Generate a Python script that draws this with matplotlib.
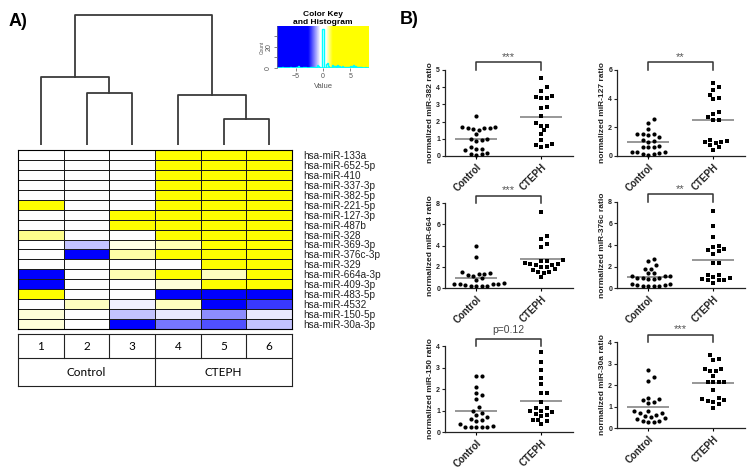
import numpy as np
import matplotlib
matplotlib.use("Agg")
import matplotlib.pyplot as plt
from matplotlib.colors import LinearSegmentedColormap
from matplotlib.transforms import blended_transform_factory

plt.rcParams['font.family'] = ['Liberation Sans', 'DejaVu Sans']

W, H = 756, 469

# ---- heatmap data (A) ----
mirnas = ['hsa-miR-133a', 'hsa-miR-652-5p', 'hsa-miR-410', 'hsa-miR-337-3p', 'hsa-miR-382-5p',
          'hsa-miR-221-5p', 'hsa-miR-127-3p', 'hsa-miR-487b', 'hsa-miR-328', 'hsa-miR-369-3p',
          'hsa-miR-376c-3p', 'hsa-miR-329', 'hsa-miR-664a-3p', 'hsa-miR-409-3p', 'hsa-miR-483-5p',
          'hsa-miR-4532', 'hsa-miR-150-5p', 'hsa-miR-30a-3p']
heat_values = [
    [0, 0, 0, 6.2, 5.4, 7.1],
    [0, 0, 0, 5.8, 6.6, 4.9],
    [0, 0, 0, 4.3, 5.1, 6.0],
    [0, 0, 0, 3.6, 5.7, 5.3],
    [0, 0, 0, 2.9, 4.6, 6.4],
    [3.1, 0, 0, 5.5, 7.8, 5.9],
    [0, 0, 2.4, 4.8, 6.8, 5.6],
    [0, 0, 2.2, 3.3, 5.2, 4.4],
    [1.1, 0, 0, 2.6, 3.9, 4.1],
    [0, -1.0, 0.65, 0.9, 3.4, 2.7],
    [0, -4.6, 0.95, 2.1, 3.0, 2.5],
    [0, 0, 0, 0, 2.3, 3.7],
    [-4.4, 0, 0.9, 1.9, 0.85, 2.8],
    [-6.1, 0, 0, 0.7, 2.0, 1.9],
    [1.9, 0, 0, -4.5, -7.5, -3.6],
    [0, 0.8, -0.6, 0.85, -4.7, -2.2],
    [0.68, 0, -1.0, -0.72, -1.5, -0.72],
    [0.68, 0, -3.2, -1.66, -2.0, -1.0],
]
sample_ids = ['1', '2', '3', '4', '5', '6']
groups = ['Control', 'CTEPH']
# dendrogram merges: (child a, child b, height); ids >= 6 are earlier merges
merges = [(1, 2, 52), (4, 5, 26), (0, 6, 68), (3, 7, 50), (8, 9, 130)]

# ---- scatter data (B) ----
ctrl_382 = [2.3, 1.7, 1.65, 1.6, 1.65, 1.7, 1.5, 1.55, 1.25, 1.0, 0.95, 1.0, 0.85, 0.55,
            0.38, 0.32, 0.4, 0.15, 0.12, 0.1, 0.08]
cteph_382 = [4.55, 4.0, 3.8, 3.45, 3.4, 3.35, 3.5, 2.85, 2.8, 2.3, 1.75, 1.75, 1.9, 1.5,
             1.25, 0.95, 0.7, 0.65, 0.5, 0.6]
ctrl_127 = [2.58, 2.33, 1.88, 1.55, 1.5, 1.45, 1.55, 1.33, 1.1, 1.05, 1.0, 0.72, 0.65, 0.62,
            0.65, 0.28, 0.22, 0.14, 0.16, 0.25, 0.3, 0.07]
cteph_127 = [5.1, 4.8, 4.6, 4.25, 3.95, 4.05, 3.1, 2.9, 2.7, 2.5, 2.5, 1.05, 0.9, 0.75,
             0.95, 1.0, 1.15, 0.45, 0.6]
ctrl_664 = [3.95, 2.95, 1.45, 1.35, 1.15, 1.25, 1.3, 1.55, 0.9, 0.75, 0.42, 0.4, 0.45, 0.15,
            0.2, 0.15, 0.3, 0.4, 0.42, 0.2]
cteph_664 = [7.15, 4.9, 4.65, 3.85, 4.1, 2.65, 2.5, 2.35, 2.3, 2.3, 2.5, 2.0, 2.2, 1.95,
             2.2, 1.8, 1.55, 1.45, 1.55, 1.05, 1.7]
ctrl_376c = [2.7, 2.55, 1.75, 1.75, 2.1, 1.35, 1.15, 1.1, 1.15, 1.35, 0.85, 0.9, 0.85, 0.9,
             0.95, 0.4, 0.3, 0.22, 0.15, 0.15, 0.22, 0.3, 0.4]
cteph_376c = [7.2, 5.75, 4.7, 3.6, 3.8, 3.95, 3.5, 3.45, 3.2, 2.3, 2.3, 1.2, 1.0, 0.9,
              1.25, 0.8, 0.7, 0.75, 0.7, 0.5]
ctrl_150 = [2.6, 2.6, 2.1, 1.8, 1.7, 1.55, 1.15, 1.0, 0.9, 0.8, 0.6, 0.55, 0.7, 0.5,
            0.28, 0.23, 0.23, 0.23, 0.23, 0.25, 0.38]
cteph_150 = [3.7, 3.25, 2.9, 2.5, 2.25, 1.8, 1.8, 1.4, 1.1, 1.0, 0.95, 1.0, 1.1, 0.8,
             0.85, 0.75, 0.55, 0.55, 0.5, 0.35]
ctrl_30a = [2.7, 2.35, 2.2, 1.38, 1.3, 1.22, 1.33, 1.14, 0.78, 0.7, 0.55, 0.5, 0.62, 0.7,
            0.78, 0.4, 0.33, 0.28, 0.33, 0.45, 0.28]
cteph_30a = [3.38, 3.17, 3.22, 2.73, 2.65, 2.63, 2.75, 2.42, 2.15, 2.15, 2.15, 2.15, 1.77,
             1.4, 1.33, 1.12, 1.22, 1.25, 1.3, 0.95]

panel_names = ['miR-382', 'miR-127', 'miR-664', 'miR-376c', 'miR-150', 'miR-30a']
panel_ctrl = [ctrl_382, ctrl_127, ctrl_664, ctrl_376c, ctrl_150, ctrl_30a]
panel_cteph = [cteph_382, cteph_127, cteph_664, cteph_376c, cteph_150, cteph_30a]
panel_ymax = [5, 6, 8, 8, 4, 4]
panel_ystep = [1, 2, 2, 2, 1, 1]
panel_sig = ['***', '**', '***', '**', 'p=0.12', '***']


def px_axes(x0, y0, x1, y1):
    return fig.add_axes([x0 / W, 1 - y1 / H, (x1 - x0) / W, (y1 - y0) / H])


def swarm(x0, vals, px_y, px_x, d=5.0):
    # greedy beeswarm in pixel space: nearest free slot to the centre line
    vals = np.asarray(vals, dtype=float)
    ypx = vals * px_y
    xs = np.zeros(len(vals))
    placed = []
    for i in np.argsort(vals):
        for k in range(40):
            off = ((k + 1) // 2) * (1 if k % 2 else -1) * d * 0.55
            ok = all((off - px) ** 2 + (ypx[i] - py) ** 2 >= d * d for px, py in placed)
            if ok:
                break
        placed.append((off, ypx[i]))
        xs[i] = x0 + off / px_x
    return xs


fig = plt.figure(figsize=(W / 100, H / 100), dpi=100)

# ---------------- A) heatmap ----------------
vmin, vmax = -8.4, 8.4
def npos(v):
    return (v - vmin) / (vmax - vmin)
cmap = LinearSegmentedColormap.from_list('byw', [
    (0.0, 'blue'), (npos(-2.7), 'blue'), (npos(-0.5), 'white'),
    (npos(0.5), 'white'), (npos(1.8), 'yellow'), (1.0, 'yellow')])

mat = np.array(heat_values)
ax_h = px_axes(18, 150, 292, 329)
ax_h.pcolormesh(mat, cmap=cmap, vmin=vmin, vmax=vmax, edgecolors='#1c1c1c', linewidth=0.7)
ax_h.set_xlim(0, mat.shape[1])
ax_h.set_ylim(mat.shape[0], 0)
ax_h.set_xticks([])
ax_h.yaxis.tick_right()
ax_h.set_yticks(np.arange(len(mirnas)) + 0.5)
ax_h.set_yticklabels(mirnas, fontsize=7.2, color='#222')
ax_h.tick_params(axis='y', length=0, pad=8)
for s in ax_h.spines.values():
    s.set_linewidth(0.8)

# dendrogram
ax_d = px_axes(18, 10, 292, 145)
pos = {i: i + 0.5 for i in range(6)}
hgt = {i: 0 for i in range(6)}
for k, (a, b, h) in enumerate(merges):
    xa, xb = pos[a], pos[b]
    ax_d.plot([xa, xa, xb, xb], [hgt[a], h, h, hgt[b]], color='#3a3a3a', lw=1.3)
    pos[6 + k] = (xa + xb) / 2
    hgt[6 + k] = h
ax_d.set_xlim(0, 6)
ax_d.set_ylim(0, 135)
ax_d.axis('off')

# colour key with histogram
ax_k = px_axes(277, 26, 369, 68)
grad = np.linspace(vmin, vmax, 300)[None, :]
ax_k.imshow(grad, cmap=cmap, vmin=vmin, vmax=vmax, aspect='auto', extent=(vmin, vmax, 0, 40))
counts, edges = np.histogram(mat.ravel(), bins=np.linspace(-8.5, 8.5, 86))
ax_k.stairs(counts, edges, color='cyan', lw=1.0, baseline=0)
ax_k.axhline(0.3, color='cyan', lw=1.2)
ax_k.set_xlim(vmin, vmax)
ax_k.set_ylim(0, 40)
ax_k.set_xticks([-5, 0, 5])
ax_k.set_yticks([0, 10, 20, 30])
ax_k.set_yticklabels(['0', '', '20', ''], rotation=90, va='center')
ax_k.tick_params(labelsize=5, colors='#555', length=2, width=0.5, pad=1.5)
ax_k.set_ylabel('Count', fontsize=3.5, color='#555', labelpad=0)
ax_k.set_xlabel('Value', fontsize=5.5, color='#555', labelpad=2)
for side in ['top', 'right', 'bottom']:
    ax_k.spines[side].set_visible(False)
ax_k.spines['left'].set_linewidth(0.5)
ax_k.spines['left'].set_color('#777')
fig.text(323 / W, 1 - 18.5 / H, 'Color Key\nand Histogram', ha='center', va='center',
         fontsize=6, weight='bold', linespacing=1.0)

# sample / group table
ax_t = px_axes(18, 334, 292, 386)
ax_t.set_xlim(0, 6)
ax_t.set_ylim(0, 52)
ax_t.axhline(28, color='#222', lw=0.8)
for i in range(1, 6):
    ax_t.plot([i, i], [28, 52], color='#222', lw=0.8)
ax_t.plot([3, 3], [0, 28], color='#222', lw=0.8)
for i, sid in enumerate(sample_ids):
    ax_t.text(i + 0.5, 40, sid, ha='center', va='center', fontsize=8.5, family='Lato')
for j, g in enumerate(groups):
    ax_t.text(1.5 + 3 * j, 14, g, ha='center', va='center', fontsize=8.5, family='Lato')
ax_t.set_xticks([])
ax_t.set_yticks([])
for s in ax_t.spines.values():
    s.set_linewidth(0.8)
    s.set_color('#222')

fig.text(9 / W, 1 - 21 / H, 'A)', fontsize=13, weight='bold', va='center')
fig.text(400 / W, 1 - 19 / H, 'B)', fontsize=13, weight='bold', va='center')

# ---------------- B) scatter panels ----------------
panel_boxes = [(445, 70, 156), (617, 70, 156), (445, 203, 288),
               (617, 202, 288), (445, 346, 432), (617, 342, 428)]
for k in range(6):
    left, top, bottom = panel_boxes[k]
    ax = px_axes(left, top, left + 128, bottom)
    ymax = panel_ymax[k]
    px_per_unit = (bottom - top) / ymax
    for g, (vals, mk) in enumerate([(panel_ctrl[k], 'o'), (panel_cteph[k], 's')]):
        x0 = g + 1
        xs = swarm(x0, vals, px_per_unit, 65.0)
        ax.scatter(xs, vals, marker=mk, s=9 if mk == 'o' else 8, color='black',
                   linewidths=0, clip_on=False, zorder=3)
        ax.hlines(np.mean(vals), x0 - 0.33, x0 + 0.33, color='#7a7a7a', lw=1.1, zorder=2)
    ax.set_xlim(1 - 31 / 65, 1 + 97 / 65)
    ax.set_ylim(0, ymax)
    ax.set_yticks(np.arange(0, ymax + 0.01, panel_ystep[k]))
    ax.set_xticks([1, 2])
    ax.set_xticklabels(groups, rotation=45, ha='right', va='top', rotation_mode='anchor',
                       fontsize=7, weight='bold', color='#222')
    for lab in ax.get_yticklabels():
        lab.set_fontweight('bold')
    ax.tick_params(axis='y', labelsize=5, length=2, width=0.8, pad=1.5, colors='#222')
    ax.tick_params(axis='x', length=2.5, width=0.8, pad=2)
    ax.spines['top'].set_visible(False)
    ax.spines['right'].set_visible(False)
    for side in ['left', 'bottom']:
        ax.spines[side].set_linewidth(0.9)
        ax.spines[side].set_color('#222')
    ax.set_ylabel(f'normalized {panel_names[k]} ratio', fontsize=6, weight='bold',
                  labelpad=1.5, color='#222')
    tr = blended_transform_factory(ax.transData, ax.transAxes)
    hb = 7.5 / (bottom - top)
    ax.plot([1, 1, 2, 2], [1.0, 1.0 + hb, 1.0 + hb, 1.0], color='#333', lw=1.1,
            transform=tr, clip_on=False)
    if panel_sig[k].startswith('p'):
        ax.text(1.5, 1.0 + hb + 0.04, panel_sig[k], transform=tr, ha='center', va='bottom',
                fontsize=7.5, color='#444')
    else:
        ax.text(1.5, 1.0 + hb + 0.01, panel_sig[k], transform=tr, ha='center', va='bottom',
                fontsize=8, color='#555')

fig.savefig('out.png', dpi=100)
